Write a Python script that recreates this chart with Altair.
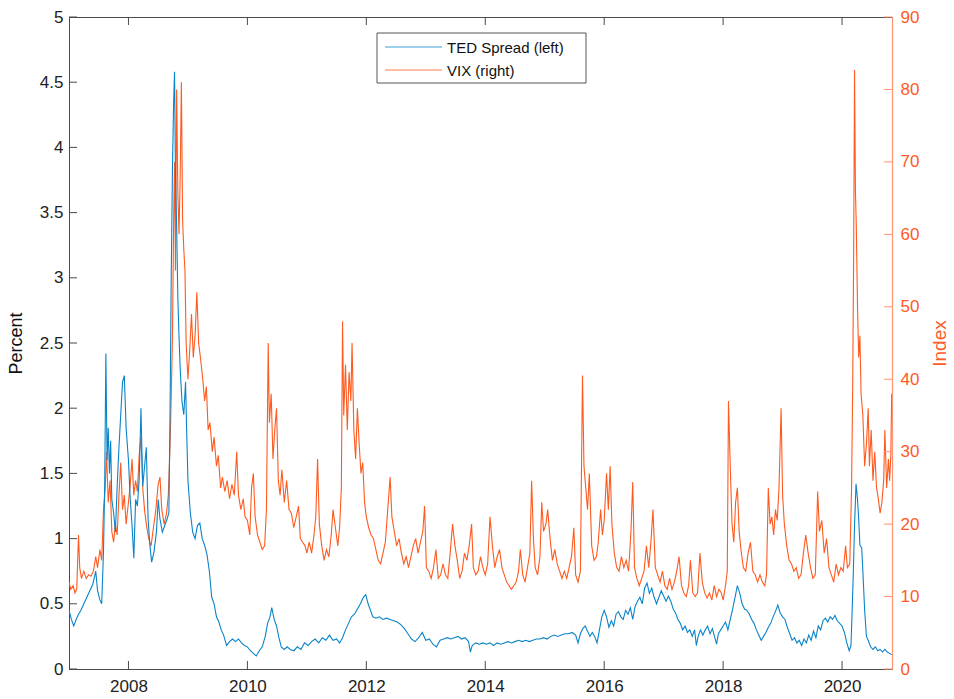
import altair as alt
import pandas as pd

# ---------------- data ----------------
vix_year = [
2007.00,2007.03,2007.07,2007.10,2007.13,2007.16,2007.18,2007.21,2007.25,2007.29,
2007.33,2007.37,2007.41,2007.45,2007.48,2007.52,2007.55,2007.58,2007.61,2007.63,
2007.66,2007.69,2007.72,2007.75,2007.78,2007.81,2007.84,2007.87,2007.90,2007.93,
2007.96,2008.00,2008.03,2008.06,2008.09,2008.12,2008.15,2008.18,2008.21,2008.24,
2008.27,2008.30,2008.34,2008.38,2008.42,2008.46,2008.50,2008.53,2008.56,2008.60,
2008.64,2008.67,2008.70,2008.72,2008.74,2008.76,2008.775,2008.79,2008.81,2008.83,
2008.85,2008.87,2008.89,2008.91,2008.93,2008.95,2008.97,2009.00,2009.03,2009.06,
2009.09,2009.12,2009.15,2009.18,2009.21,2009.25,2009.28,2009.31,2009.34,2009.37,
2009.41,2009.44,2009.48,2009.51,2009.55,2009.58,2009.62,2009.66,2009.70,2009.74,
2009.78,2009.82,2009.85,2009.89,2009.93,2009.96,2010.00,2010.04,2010.07,2010.10,
2010.13,2010.17,2010.21,2010.25,2010.29,2010.32,2010.35,2010.37,2010.40,2010.43,
2010.46,2010.49,2010.52,2010.55,2010.58,2010.62,2010.66,2010.70,2010.74,2010.78,
2010.82,2010.86,2010.89,2010.93,2010.97,2011.00,2011.04,2011.08,2011.12,2011.15,
2011.18,2011.21,2011.25,2011.29,2011.33,2011.37,2011.41,2011.44,2011.48,2011.52,
2011.55,2011.58,2011.60,2011.62,2011.65,2011.68,2011.71,2011.74,2011.76,2011.79,
2011.82,2011.85,2011.88,2011.91,2011.94,2011.97,2012.00,2012.04,2012.08,2012.12,
2012.16,2012.20,2012.24,2012.28,2012.32,2012.36,2012.40,2012.43,2012.47,2012.51,
2012.55,2012.59,2012.63,2012.67,2012.71,2012.75,2012.79,2012.83,2012.87,2012.91,
2012.95,2012.98,2013.01,2013.05,2013.09,2013.13,2013.17,2013.21,2013.25,2013.29,
2013.33,2013.37,2013.41,2013.45,2013.49,2013.53,2013.57,2013.61,2013.65,2013.69,
2013.73,2013.77,2013.80,2013.84,2013.88,2013.92,2013.96,2014.00,2014.04,2014.08,
2014.12,2014.16,2014.20,2014.24,2014.28,2014.32,2014.36,2014.40,2014.44,2014.48,
2014.52,2014.56,2014.59,2014.63,2014.67,2014.71,2014.75,2014.78,2014.81,2014.84,
2014.88,2014.92,2014.95,2014.98,2015.02,2015.05,2015.09,2015.13,2015.17,2015.21,
2015.25,2015.29,2015.33,2015.37,2015.41,2015.45,2015.49,2015.52,2015.56,2015.60,
2015.635,2015.66,2015.69,2015.72,2015.75,2015.79,2015.83,2015.87,2015.90,2015.94,
2015.97,2016.00,2016.04,2016.07,2016.10,2016.13,2016.17,2016.21,2016.25,2016.29,
2016.33,2016.37,2016.41,2016.45,2016.48,2016.51,2016.55,2016.59,2016.63,2016.67,
2016.71,2016.75,2016.79,2016.82,2016.86,2016.90,2016.94,2016.98,2017.02,2017.06,
2017.10,2017.14,2017.18,2017.22,2017.26,2017.30,2017.34,2017.38,2017.42,2017.45,
2017.49,2017.53,2017.57,2017.61,2017.65,2017.69,2017.73,2017.77,2017.81,2017.85,
2017.89,2017.93,2017.97,2018.00,2018.04,2018.07,2018.09,2018.12,2018.15,2018.18,
2018.21,2018.24,2018.27,2018.30,2018.34,2018.38,2018.42,2018.46,2018.50,2018.54,
2018.58,2018.62,2018.66,2018.70,2018.73,2018.76,2018.79,2018.82,2018.85,2018.88,
2018.91,2018.94,2018.975,2019.00,2019.03,2019.07,2019.11,2019.15,2019.19,2019.23,
2019.27,2019.31,2019.35,2019.39,2019.43,2019.47,2019.51,2019.55,2019.59,2019.62,
2019.66,2019.70,2019.74,2019.78,2019.82,2019.86,2019.90,2019.94,2019.98,2020.02,
2020.06,2020.09,2020.13,2020.16,2020.18,2020.195,2020.21,2020.225,2020.24,2020.26,
2020.28,2020.30,2020.32,2020.35,2020.38,2020.41,2020.44,2020.46,2020.49,2020.52,
2020.55,2020.58,2020.61,2020.64,2020.67,2020.70,2020.72,2020.75,2020.78,2020.80,
2020.82,2020.835,
]
vix_value = [
12.0,11.0,11.5,10.5,11.0,18.5,14.0,12.5,13.5,12.5,
13.0,12.8,13.5,15.5,14.0,16.5,15.0,22.0,25.0,30.0,
23.0,26.0,19.0,17.5,20.0,18.5,24.0,28.5,22.0,24.0,
20.0,23.0,25.5,29.0,24.0,26.0,24.5,29.5,32.0,25.0,
22.0,20.0,18.0,17.0,19.5,22.0,25.5,26.5,22.0,20.0,
21.5,24.0,31.0,38.0,46.0,62.0,70.0,55.0,80.0,66.0,
60.0,68.0,81.0,62.0,58.0,55.0,45.0,40.0,44.0,49.0,
43.0,46.0,52.0,45.0,43.0,40.0,37.0,39.0,33.0,34.0,
30.0,32.0,28.0,29.5,25.0,26.5,24.5,26.0,23.5,25.5,
24.0,30.0,24.0,22.0,23.5,21.0,20.5,18.5,25.0,27.0,
21.0,18.5,17.5,16.5,17.0,22.0,45.0,34.0,38.0,29.0,
33.0,36.0,26.0,24.0,27.5,23.0,26.0,22.0,21.5,19.5,
21.0,22.5,18.0,17.5,17.0,16.0,17.5,16.0,18.5,21.0,
29.0,20.0,17.0,15.0,16.5,15.5,18.5,22.0,19.5,17.0,
19.5,25.0,48.0,35.0,42.0,33.0,41.0,37.0,45.0,33.0,
29.0,36.0,31.0,27.0,28.5,23.0,21.0,19.5,18.5,18.0,
16.5,15.0,14.5,16.0,17.5,22.0,26.5,21.0,19.0,17.0,
18.0,16.0,14.5,15.5,14.0,15.5,17.0,18.0,16.0,17.5,
19.0,22.5,14.0,13.5,12.5,14.0,16.5,12.5,13.0,14.5,
13.0,12.5,16.0,20.0,17.0,15.0,12.5,13.5,16.0,15.0,
17.0,20.0,14.0,13.0,13.5,15.5,14.0,13.0,14.5,21.0,
17.0,14.0,15.5,16.5,14.0,13.0,12.0,11.5,11.0,11.5,
12.0,13.5,16.5,13.0,12.0,14.0,16.0,26.0,18.0,14.0,
13.0,15.5,23.0,19.0,20.0,22.0,18.0,15.0,16.5,14.5,
13.5,12.5,13.5,12.5,14.0,15.5,19.5,13.0,12.0,13.5,
40.5,28.0,25.0,22.0,27.0,17.0,15.0,15.5,17.5,22.0,
18.5,20.5,27.0,22.0,28.0,20.0,16.0,14.0,13.5,15.5,
14.0,15.0,13.5,19.0,25.8,14.0,12.5,11.5,12.5,13.5,
17.0,14.0,18.0,22.0,14.0,13.0,12.0,13.5,11.5,11.0,
12.5,11.0,12.0,13.5,15.5,11.5,10.5,10.0,11.5,15.0,
10.5,10.0,10.5,16.0,12.0,10.5,9.8,10.5,9.5,11.5,
10.0,11.0,10.5,9.5,11.5,13.5,37.0,28.0,20.0,17.5,
23.0,25.0,19.0,16.5,14.0,13.5,16.0,17.5,13.5,13.0,
12.0,13.0,12.0,11.5,13.0,25.0,20.0,21.0,18.5,22.0,
20.5,25.0,36.0,24.0,20.0,17.0,15.0,14.5,13.5,14.0,
12.5,13.0,16.0,18.5,16.0,14.0,12.5,13.0,24.5,19.0,
20.5,16.0,18.0,14.0,13.0,12.0,14.5,13.0,14.0,13.5,
17.0,14.0,14.5,25.0,40.0,57.0,82.7,66.0,61.0,50.0,
43.0,46.0,38.0,35.0,28.0,31.0,36.0,28.0,33.0,26.0,
30.0,25.0,23.5,21.5,23.0,26.0,33.0,25.0,29.0,26.0,
29.5,38.0,
]

ted_year = [
2007.00,2007.04,2007.08,2007.12,2007.16,2007.20,2007.25,2007.30,2007.35,2007.40,
2007.45,2007.48,2007.52,2007.55,2007.58,2007.60,2007.62,2007.64,2007.66,2007.68,
2007.70,2007.72,2007.75,2007.78,2007.81,2007.84,2007.87,2007.90,2007.93,2007.96,
2008.00,2008.03,2008.06,2008.09,2008.12,2008.15,2008.18,2008.21,2008.24,2008.27,
2008.30,2008.33,2008.36,2008.39,2008.43,2008.47,2008.50,2008.53,2008.57,2008.61,
2008.65,2008.68,2008.70,2008.72,2008.74,2008.76,2008.775,2008.79,2008.81,2008.83,
2008.85,2008.87,2008.90,2008.93,2008.96,2008.98,2009.00,2009.04,2009.08,2009.12,
2009.16,2009.20,2009.24,2009.28,2009.32,2009.36,2009.40,2009.44,2009.48,2009.52,
2009.56,2009.60,2009.65,2009.70,2009.75,2009.80,2009.85,2009.90,2009.95,2010.00,
2010.05,2010.10,2010.15,2010.20,2010.25,2010.30,2010.34,2010.38,2010.41,2010.45,
2010.49,2010.53,2010.57,2010.62,2010.67,2010.72,2010.78,2010.84,2010.90,2010.96,
2011.02,2011.08,2011.14,2011.20,2011.26,2011.32,2011.38,2011.44,2011.50,2011.55,
2011.60,2011.65,2011.70,2011.75,2011.80,2011.85,2011.90,2011.95,2011.99,2012.03,
2012.07,2012.11,2012.16,2012.22,2012.28,2012.34,2012.40,2012.46,2012.52,2012.58,
2012.64,2012.70,2012.76,2012.82,2012.88,2012.94,2013.00,2013.06,2013.12,2013.18,
2013.24,2013.30,2013.36,2013.42,2013.48,2013.54,2013.60,2013.66,2013.72,2013.75,
2013.78,2013.84,2013.90,2013.96,2014.02,2014.08,2014.14,2014.20,2014.26,2014.32,
2014.38,2014.44,2014.50,2014.56,2014.62,2014.68,2014.74,2014.80,2014.86,2014.92,
2014.98,2015.04,2015.10,2015.16,2015.22,2015.28,2015.34,2015.40,2015.46,2015.52,
2015.56,2015.60,2015.64,2015.68,2015.72,2015.76,2015.80,2015.84,2015.88,2015.92,
2015.96,2016.00,2016.04,2016.08,2016.12,2016.16,2016.20,2016.24,2016.28,2016.32,
2016.36,2016.40,2016.44,2016.48,2016.52,2016.56,2016.60,2016.64,2016.68,2016.72,
2016.76,2016.80,2016.84,2016.88,2016.92,2016.96,2017.00,2017.04,2017.08,2017.12,
2017.16,2017.20,2017.24,2017.28,2017.32,2017.36,2017.40,2017.44,2017.48,2017.52,
2017.55,2017.58,2017.62,2017.66,2017.70,2017.74,2017.78,2017.82,2017.86,2017.89,
2017.92,2017.96,2018.00,2018.04,2018.08,2018.12,2018.16,2018.20,2018.24,2018.28,
2018.32,2018.36,2018.40,2018.44,2018.48,2018.52,2018.56,2018.60,2018.64,2018.68,
2018.72,2018.76,2018.80,2018.84,2018.88,2018.92,2018.96,2019.00,2019.04,2019.08,
2019.12,2019.16,2019.20,2019.24,2019.28,2019.32,2019.36,2019.40,2019.44,2019.48,
2019.52,2019.56,2019.60,2019.64,2019.68,2019.72,2019.76,2019.80,2019.84,2019.88,
2019.92,2019.96,2020.00,2020.04,2020.08,2020.12,2020.15,2020.17,2020.19,2020.21,
2020.235,2020.26,2020.28,2020.30,2020.33,2020.35,2020.38,2020.41,2020.44,2020.48,
2020.52,2020.56,2020.60,2020.64,2020.68,2020.72,2020.76,2020.80,2020.835,
]
ted_value = [
0.45,0.38,0.33,0.38,0.42,0.45,0.50,0.55,0.60,0.65,
0.75,0.60,0.53,0.50,0.90,1.40,2.42,1.60,1.85,1.50,
1.75,1.30,1.20,1.05,1.40,1.70,1.95,2.20,2.25,1.85,
1.60,1.30,1.10,0.85,1.30,1.25,1.45,2.00,1.40,1.55,
1.70,1.15,0.95,0.82,0.90,1.05,1.30,1.15,1.05,1.10,
1.15,1.20,2.00,3.05,3.85,4.35,4.58,3.80,3.40,2.85,
2.55,2.30,2.05,1.95,2.20,1.80,1.45,1.20,1.05,1.00,
1.10,1.12,1.00,0.95,0.88,0.75,0.55,0.50,0.40,0.36,
0.30,0.26,0.18,0.21,0.23,0.21,0.23,0.20,0.18,0.17,
0.14,0.12,0.10,0.14,0.17,0.25,0.35,0.40,0.47,0.38,
0.33,0.24,0.17,0.15,0.17,0.15,0.14,0.17,0.15,0.20,
0.18,0.21,0.23,0.20,0.24,0.22,0.26,0.22,0.23,0.20,
0.24,0.30,0.35,0.40,0.42,0.46,0.50,0.55,0.57,0.50,
0.45,0.40,0.39,0.40,0.38,0.39,0.38,0.37,0.36,0.34,
0.31,0.27,0.23,0.21,0.24,0.28,0.22,0.23,0.19,0.17,
0.22,0.23,0.24,0.23,0.24,0.25,0.23,0.24,0.21,0.13,
0.18,0.20,0.19,0.20,0.19,0.20,0.18,0.20,0.19,0.20,
0.21,0.20,0.21,0.22,0.21,0.22,0.21,0.22,0.23,0.23,
0.24,0.23,0.25,0.26,0.25,0.26,0.27,0.27,0.28,0.26,
0.20,0.27,0.31,0.33,0.29,0.25,0.28,0.25,0.20,0.30,
0.40,0.45,0.40,0.32,0.37,0.33,0.42,0.44,0.40,0.38,
0.45,0.42,0.47,0.38,0.48,0.52,0.55,0.50,0.62,0.66,
0.58,0.62,0.55,0.50,0.55,0.60,0.56,0.52,0.56,0.52,
0.46,0.43,0.38,0.35,0.30,0.33,0.28,0.30,0.25,0.30,
0.18,0.25,0.30,0.26,0.30,0.33,0.27,0.31,0.24,0.19,
0.27,0.30,0.33,0.36,0.30,0.38,0.46,0.55,0.64,0.58,
0.50,0.46,0.45,0.42,0.38,0.35,0.30,0.26,0.22,0.25,
0.28,0.32,0.35,0.40,0.44,0.49,0.43,0.40,0.38,0.32,
0.27,0.22,0.24,0.20,0.22,0.18,0.23,0.20,0.26,0.22,
0.29,0.24,0.33,0.30,0.37,0.39,0.36,0.40,0.38,0.41,
0.37,0.35,0.33,0.28,0.20,0.14,0.18,0.45,0.75,1.10,
1.42,1.30,1.15,0.95,0.93,0.75,0.45,0.25,0.22,0.17,
0.15,0.17,0.14,0.15,0.13,0.15,0.13,0.12,0.11,
]

series_names = ["TED Spread (left)", "VIX (right)"]
year_ticks = [2008, 2010, 2012, 2014, 2016, 2018, 2020]
left_ticks = [0, 0.5, 1, 1.5, 2, 2.5, 3, 3.5, 4, 4.5, 5]
right_ticks = [0, 10, 20, 30, 40, 50, 60, 70, 80, 90]

# ---------------- styling ----------------
W, H = 823, 652
BLUE = "#0a84c9"
ORANGE = "#ff5a1f"
ORANGE_AXIS = "#ff9474"
GRAY = "#4a4a4a"
FONT = "Liberation Sans"

ted = pd.DataFrame({"year": ted_year, "value": ted_value, "series": series_names[0]})
vix = pd.DataFrame({"year": vix_year, "value": vix_value, "series": series_names[1]})
xt = pd.DataFrame({"year": year_ticks})
lt = pd.DataFrame({"value": left_ticks})
rt = pd.DataFrame({"value": right_ticks})
one = pd.DataFrame({"k": [0]})

xscale = alt.Scale(domain=[2007.0, 2020.84], nice=False, zero=False)
xaxis = alt.Axis(values=year_ticks, format="d", ticks=False, grid=False,
                 labelFontSize=17, labelColor="#222", labelFont=FONT,
                 domainColor=GRAY, labelPadding=9, title=None)
lscale = alt.Scale(domain=[0, 5], nice=False)
laxis = alt.Axis(orient="left", values=left_ticks, format="~g", ticks=False, grid=False,
                 labelFontSize=17, labelColor="#222", labelFont=FONT, domainColor=GRAY,
                 labelPadding=6, title="Percent", titleFontSize=18, titleFont=FONT,
                 titleFontWeight="normal", titleColor="#111", titlePadding=14)
rscale = alt.Scale(domain=[0, 90], nice=False)
raxis = alt.Axis(orient="right", values=right_ticks, format="d", ticks=False, grid=False,
                 labelFontSize=17, labelColor=ORANGE, labelFont=FONT,
                 domainColor=ORANGE_AXIS, domainWidth=1.2,
                 labelPadding=8, title="Index", titleFontSize=19, titleFont=FONT,
                 titleFontWeight="normal", titleColor=ORANGE, titlePadding=31,
                 titleAngle=270)
color = alt.Color("series:N", scale=alt.Scale(domain=series_names, range=[BLUE, ORANGE]),
                  legend=None)

vix_line = alt.Chart(vix).mark_line(strokeWidth=1.1, clip=True).encode(
    x=alt.X("year:Q", scale=xscale, axis=xaxis),
    y=alt.Y("value:Q", scale=rscale, axis=raxis),
    color=color,
)
right_tick_rules = alt.Chart(rt).mark_rule(color=ORANGE_AXIS, strokeWidth=1).encode(
    y=alt.Y("value:Q", scale=rscale, axis=raxis),
    x=alt.value(W - 8), x2=alt.value(W),
)
right_group = alt.layer(vix_line, right_tick_rules)

ted_line = alt.Chart(ted).mark_line(strokeWidth=1.1, clip=True).encode(
    x=alt.X("year:Q", scale=xscale, axis=xaxis),
    y=alt.Y("value:Q", scale=lscale, axis=laxis),
    color=color,
)
left_tick_rules = alt.Chart(lt).mark_rule(color=GRAY, strokeWidth=1).encode(
    y=alt.Y("value:Q", scale=lscale, axis=laxis),
    x=alt.value(0), x2=alt.value(8),
)
bottom_tick_rules = alt.Chart(xt).mark_rule(color=GRAY, strokeWidth=1).encode(
    x=alt.X("year:Q", scale=xscale, axis=xaxis),
    y=alt.value(H - 8), y2=alt.value(H),
)
top_tick_rules = alt.Chart(xt).mark_rule(color=GRAY, strokeWidth=1).encode(
    x=alt.X("year:Q", scale=xscale, axis=xaxis),
    y=alt.value(0), y2=alt.value(8),
)

# ---- manual legend box (MATLAB style) ----
LX0, LX1, LY0, LY1 = 308, 517, 16, 66
legend_box = alt.Chart(one).mark_rect(fill="white", stroke="#555", strokeWidth=1).encode(
    x=alt.value(LX0), x2=alt.value(LX1), y=alt.value(LY0), y2=alt.value(LY1))
leg_layers = [legend_box]
for i, (name, col) in enumerate(zip(series_names, [BLUE, ORANGE])):
    yy = 30 + 23 * i
    leg_layers.append(alt.Chart(one).mark_rule(color=col, strokeWidth=1.2, opacity=0.8).encode(
        x=alt.value(316), x2=alt.value(373), y=alt.value(yy)))
    leg_layers.append(alt.Chart(one).mark_text(
        align="left", baseline="middle", fontSize=15, font=FONT, color="#111").encode(
        x=alt.value(378), y=alt.value(yy + 1), text=alt.value(name)))

left_group = alt.layer(ted_line, left_tick_rules, bottom_tick_rules, top_tick_rules,
                       *leg_layers)

chart = alt.layer(right_group, left_group).resolve_scale(y="independent").properties(
    width=W, height=H,
    autosize=alt.AutoSizeParams(type="none"),
    padding={"left": 69, "top": 17, "right": 62, "bottom": 30},
    background="white",
).configure_view(
    stroke=GRAY, strokeWidth=1,
)

chart.save("out.html", embed_options={"renderer": "svg", "actions": False})
